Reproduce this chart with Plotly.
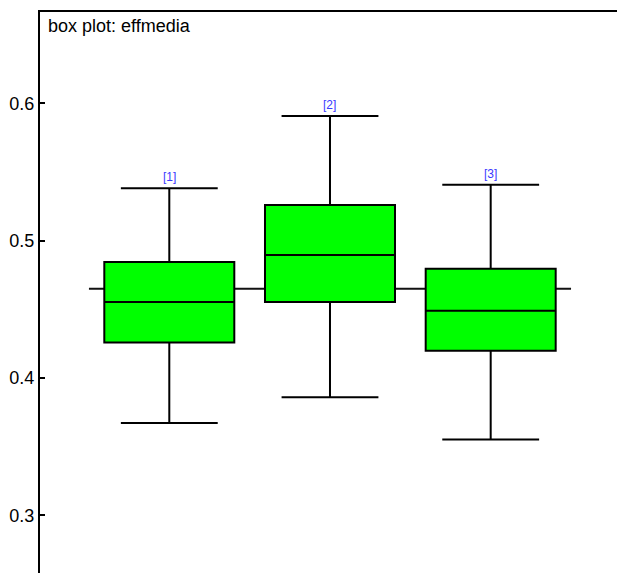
import plotly.graph_objects as go

# Summary statistics for effmedia[1..3]
labels = ["[1]", "[2]", "[3]"]
positions = [1, 2, 3]
lower = [0.3672, 0.3859, 0.3553]
q1 = [0.4259, 0.4553, 0.4198]
median = [0.4553, 0.4895, 0.4489]
q3 = [0.4844, 0.5259, 0.4795]
upper = [0.5381, 0.5908, 0.5407]
overall_mean = 0.4650

y_ticks = [0.3, 0.4, 0.5, 0.6]

FONT = "Liberation Sans, Arial, sans-serif"

fig = go.Figure()

fig.add_trace(go.Box(
    x=positions,
    q1=q1,
    median=median,
    q3=q3,
    lowerfence=lower,
    upperfence=upper,
    boxpoints=False,
    width=0.809,
    whiskerwidth=0.745,
    fillcolor="#00ff00",
    line=dict(color="black", width=2),
    showlegend=False,
    hoverinfo="skip",
))

# Horizontal reference line at the overall mean, drawn beneath the boxes
fig.add_shape(
    type="line", xref="x", yref="y",
    x0=positions[0] - 0.5, x1=positions[-1] + 0.5,
    y0=overall_mean, y1=overall_mean,
    line=dict(color="#111111", width=2),
    layer="below",
)

# Node labels above each upper whisker
for xp, lab, up in zip(positions, labels, upper):
    fig.add_annotation(
        x=xp, y=up, text=lab, showarrow=False,
        xref="x", yref="y", yanchor="bottom", yshift=2,
        font=dict(family=FONT, size=12, color="#3a3aff"),
    )

# Plot title inside the frame
fig.add_annotation(
    x=0, y=1, xref="paper", yref="paper", xanchor="left", yanchor="top",
    xshift=6, yshift=-2,
    text="box plot: effmedia", showarrow=False,
    font=dict(family=FONT, size=18, color="black"),
)

fig.update_layout(
    width=617, height=573,
    margin=dict(l=40, r=0, t=12, b=0),
    paper_bgcolor="white",
    plot_bgcolor="white",
    font=dict(family=FONT, size=18, color="black"),
    xaxis=dict(
        range=[0.1954, 3.786],
        side="top",
        showline=True, linecolor="black", linewidth=2,
        showticklabels=False, ticks="",
        showgrid=False, zeroline=False,
    ),
    yaxis=dict(
        range=[0.258, 0.6665],
        tickvals=y_ticks,
        ticktext=[f"{v:.1f}" for v in y_ticks],
        ticks="inside", ticklen=5, tickwidth=2, tickcolor="black",
        showline=True, linecolor="black", linewidth=2,
        showgrid=False, zeroline=False,
        tickfont=dict(family=FONT, size=18, color="black"),
    ),
)

fig.write_html("out.html", config={"displayModeBar": False})
